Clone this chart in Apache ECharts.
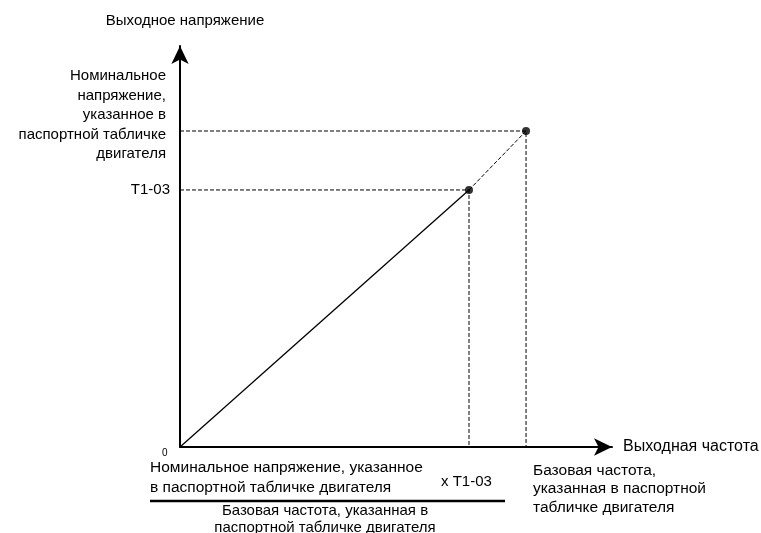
<!DOCTYPE html>
<html>
<head>
<meta charset="utf-8">
<script src="https://cdn.jsdelivr.net/npm/echarts@6/dist/echarts.min.js"></script>
<style>
  html, body { margin: 0; background: #fff; }
  #chart { width: 761px; height: 533px; }
</style>
</head>
<body>
<div id="chart"></div>
<script>
// V/f points as % of the axis length: [T1-03 point, rated point]
const kneeX = [66.9, 80.1];
const kneeY = [64.1, 78.8];

const xAxisName = 'Выходная частота';
const yAxisName = 'Выходное напряжение';
const yTickLabels = ['T1-03', 'Номинальное\nнапряжение,\nуказанное в\nпаспортной табличке\nдвигателя'];
const baseFreqLabel = 'Базовая частота,\nуказанная в паспортной\nтабличке двигателя';
const numeratorLabel = 'Номинальное напряжение, указанное\nв паспортной табличке двигателя';
const multiplierLabel = 'x T1-03';
const denominatorLabel = 'Базовая частота, указанная в\nпаспортной табличке двигателя';

const FONT = '"Liberation Sans", Arial, sans-serif';
const chart = echarts.init(document.getElementById('chart'));

const dashed = { color: '#000', width: 1, type: [4, 2] };

function axis(name, extra) {
    return Object.assign({
        type: 'value',
        min: 0,
        max: 100,
        name: name,
        nameLocation: 'end',
        axisLine: {
            show: true,
            symbol: ['none', 'arrow'],
            symbolSize: [13, 18],
            lineStyle: { color: '#000', width: 2 }
        },
        axisTick: { show: false },
        axisLabel: { show: false },
        splitLine: { show: false }
    }, extra);
}

chart.setOption({
    animation: false,
    backgroundColor: '#fff',
    grid: { left: 180, right: 149, top: 46, bottom: 86, containLabel: false, outerBoundsMode: 'none' },
    xAxis: axis(xAxisName, {
        nameGap: 11,
        nameTextStyle: { color: '#000', fontSize: 16, fontFamily: FONT, padding: [0, 0, 10, 0] }
    }),
    yAxis: axis(yAxisName, {
        nameGap: 18,
        nameTextStyle: { color: '#000', fontSize: 15, fontFamily: FONT, padding: [0, 0, 0, 10] }
    }),
    series: [
        {
            type: 'line',
            data: [[0, 0], [kneeX[0], kneeY[0]]],
            symbol: 'none',
            lineStyle: { color: '#000', width: 1.3 }
        },
        {
            type: 'line',
            data: [[kneeX[0], kneeY[0]], [kneeX[1], kneeY[1]]],
            symbol: 'none',
            lineStyle: dashed
        },
        {
            type: 'line',
            data: [[0, kneeY[0]], [kneeX[0], kneeY[0]], [kneeX[0], 0]],
            symbol: 'none',
            lineStyle: dashed
        },
        {
            type: 'line',
            data: [[0, kneeY[1]], [kneeX[1], kneeY[1]], [kneeX[1], 0]],
            symbol: 'none',
            lineStyle: dashed
        },
        {
            type: 'scatter',
            data: [[kneeX[0], kneeY[0]], [kneeX[1], kneeY[1]]],
            symbolSize: 8,
            itemStyle: { color: '#000' },
            z: 5
        }
    ]
});

const origin = chart.convertToPixel({ gridIndex: 0 }, [0, 0]);
const p1 = chart.convertToPixel({ gridIndex: 0 }, [kneeX[0], kneeY[0]]);
const p2 = chart.convertToPixel({ gridIndex: 0 }, [kneeX[1], kneeY[1]]);

function label(text, x, y, align, vAlign, lineHeight, size) {
    return {
        type: 'text',
        x: x,
        y: y,
        style: {
            text: text,
            fill: '#000',
            fontSize: size || 15,
            fontFamily: FONT,
            align: align,
            verticalAlign: vAlign,
            lineHeight: lineHeight || 19
        }
    };
}

chart.setOption({
    graphic: [
        label('0', origin[0] - 18, origin[1] + 6, 'left', 'middle', 12, 10),
        label(yTickLabels[0], origin[0] - 10, p1[1], 'right', 'middle'),
        label(yTickLabels[1], origin[0] - 14, p2[1] - 16, 'right', 'middle', 19.5),
        label(numeratorLabel, 150, 457, 'left', 'top', 20.5, 15.5),
        label(multiplierLabel, 441, 482, 'left', 'middle'),
        {
            type: 'line',
            shape: { x1: 150, y1: 501, x2: 505, y2: 501 },
            style: { stroke: '#000', lineWidth: 2.5 }
        },
        label(denominatorLabel, 325, 502, 'center', 'top', 17),
        label(baseFreqLabel, 533, 461, 'left', 'top', 18.5, 15.5)
    ]
});
</script>
</body>
</html>
